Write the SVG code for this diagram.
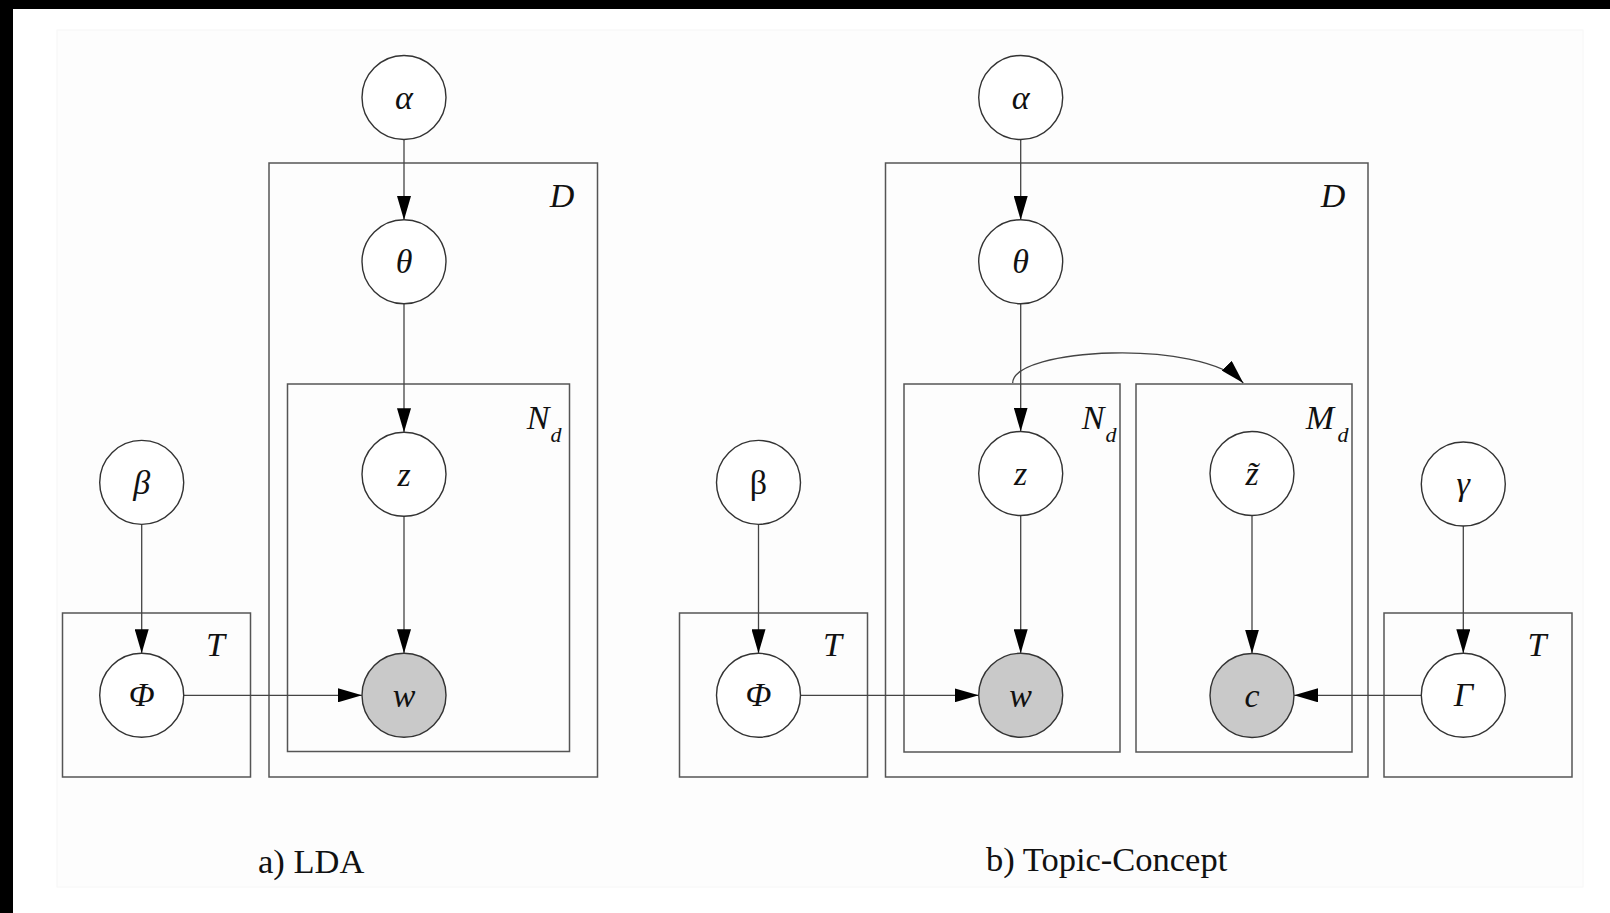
<svg xmlns="http://www.w3.org/2000/svg" width="1610" height="913" viewBox="0 0 1610 913">
  <defs>
    <marker id="arr" markerUnits="userSpaceOnUse" markerWidth="24" markerHeight="14" refX="24" refY="7" orient="auto">
      <path d="M0,0 L24,7 L0,14 z" fill="#000"/>
    </marker>
    <style>
      .node { fill: #fff; stroke: #333; stroke-width: 1.4; }
      .obs { fill: #c9c9c9; stroke: #333; stroke-width: 1.4; }
      .plate { fill: none; stroke: #555; stroke-width: 1.5; }
      .lbl { font-family: "Liberation Serif", "Times New Roman", serif; font-size: 34px; font-style: italic; text-anchor: middle; fill: #111; }
      .up { font-style: normal; }
      .sub { font-size: 22px; }
      .cap { font-family: "Liberation Serif", "Times New Roman", serif; font-size: 34.5px; fill: #111; }
      .edge { fill: none; stroke: #444; stroke-width: 1.3; marker-end: url(#arr); }
    </style>
  </defs>

  <rect x="0" y="0" width="1610" height="913" fill="#000"/>
  <rect x="13" y="9" width="1597" height="904" fill="#fff"/>
  <rect x="57" y="30" width="1526" height="857" fill="#fdfdfd" stroke="#f6f6f6" stroke-width="1"/>

  <!-- plates -->
  <g id="plates">
    <g id="plate-D-a"><rect class="plate" x="269" y="163" width="328.5" height="614"/><text class="lbl" x="562" y="207">D</text></g>
    <g id="plate-Nd-a"><rect class="plate" x="287.5" y="384" width="282" height="367.5"/><text class="lbl" x="538" y="429">N</text><text class="lbl sub" x="556" y="442">d</text></g>
    <g id="plate-T-a"><rect class="plate" x="62.5" y="613" width="188" height="164"/><text class="lbl" x="215.5" y="656">T</text></g>

    <g id="plate-D-b"><rect class="plate" x="885.5" y="163" width="482.5" height="614"/><text class="lbl" x="1333" y="207">D</text></g>
    <g id="plate-Nd-b"><rect class="plate" x="904" y="384" width="216" height="368"/><text class="lbl" x="1093" y="429">N</text><text class="lbl sub" x="1111" y="442">d</text></g>
    <g id="plate-Md-b"><rect class="plate" x="1136" y="384" width="216" height="368"/><text class="lbl" x="1320" y="429">M</text><text class="lbl sub" x="1343" y="442">d</text></g>
    <g id="plate-T1-b"><rect class="plate" x="679.5" y="613" width="188" height="164"/><text class="lbl" x="832.5" y="656">T</text></g>
    <g id="plate-T2-b"><rect class="plate" x="1384" y="613" width="188" height="164"/><text class="lbl" x="1537" y="656">T</text></g>
  </g>

  <!-- connectors -->
  <g id="connectors">
    <line class="edge" x1="404" y1="139.5" x2="404" y2="220"/>
    <line class="edge" x1="404" y1="303.7" x2="404" y2="432.3"/>
    <line class="edge" x1="404" y1="516.3" x2="404" y2="653.3"/>
    <line class="edge" x1="141.7" y1="524.4" x2="141.7" y2="653.3"/>
    <line class="edge" x1="183.7" y1="695.3" x2="362" y2="695.3"/>

    <line class="edge" x1="1020.7" y1="139.5" x2="1020.7" y2="220"/>
    <line class="edge" x1="1020.7" y1="303.7" x2="1020.7" y2="431.5"/>
    <line class="edge" x1="1020.7" y1="515.5" x2="1020.7" y2="653.3"/>
    <line class="edge" x1="1252" y1="515.5" x2="1252" y2="653.5"/>
    <line class="edge" x1="758.5" y1="524.4" x2="758.5" y2="653.3"/>
    <line class="edge" x1="800.5" y1="695.3" x2="978.7" y2="695.3"/>
    <line class="edge" x1="1463.3" y1="526" x2="1463.3" y2="653.3"/>
    <line class="edge" x1="1421.3" y1="695.3" x2="1294" y2="695.3"/>
    <path class="edge" d="M1012.7,383 C1012.7,348 1200,338 1243.3,383"/>
  </g>

  <!-- nodes: a) LDA -->
  <g id="a-alpha"><circle class="node" cx="404" cy="97.5" r="42"/><text class="lbl" x="404" y="109">α</text></g>
  <g id="a-theta"><circle class="node" cx="404" cy="261.7" r="42"/><text class="lbl" x="404" y="273">θ</text></g>
  <g id="a-z"><circle class="node" cx="404" cy="474.3" r="42"/><text class="lbl" x="404" y="486">z</text></g>
  <g id="a-w"><circle class="obs" cx="404" cy="695.3" r="42"/><text class="lbl" x="404" y="707">w</text></g>
  <g id="a-beta"><circle class="node" cx="141.7" cy="482.4" r="42"/><text class="lbl" x="141.7" y="494">β</text></g>
  <g id="a-phi"><circle class="node" cx="141.7" cy="695.3" r="42"/><text class="lbl" x="141.7" y="706">Φ</text></g>

  <!-- nodes: b) Topic-Concept -->
  <g id="b-alpha"><circle class="node" cx="1020.7" cy="97.5" r="42"/><text class="lbl" x="1020.7" y="109">α</text></g>
  <g id="b-theta"><circle class="node" cx="1020.7" cy="261.7" r="42"/><text class="lbl" x="1020.7" y="273">θ</text></g>
  <g id="b-z"><circle class="node" cx="1020.7" cy="473.5" r="42"/><text class="lbl" x="1020.7" y="485">z</text></g>
  <g id="b-w"><circle class="obs" cx="1020.7" cy="695.3" r="42"/><text class="lbl" x="1020.7" y="707">w</text></g>
  <g id="b-ztilde"><circle class="node" cx="1252" cy="473.5" r="42"/><text class="lbl" x="1252" y="485">z̃</text></g>
  <g id="b-c"><circle class="obs" cx="1252" cy="695.5" r="42"/><text class="lbl" x="1252" y="707">c</text></g>
  <g id="b-beta"><circle class="node" cx="758.5" cy="482.4" r="42"/><text class="lbl up" x="758.5" y="494">β</text></g>
  <g id="b-phi"><circle class="node" cx="758.5" cy="695.3" r="42"/><text class="lbl" x="758.5" y="706">Φ</text></g>
  <g id="b-gamma"><circle class="node" cx="1463.3" cy="484" r="42"/><text class="lbl" x="1463.3" y="495">γ</text></g>
  <g id="b-Gamma"><circle class="node" cx="1463.3" cy="695.3" r="42"/><text class="lbl" x="1463.3" y="706">Γ</text></g>

  <!-- captions -->
  <text class="cap" x="258" y="873">a) LDA</text>
  <text class="cap" x="986" y="871">b) Topic-Concept</text>
</svg>
